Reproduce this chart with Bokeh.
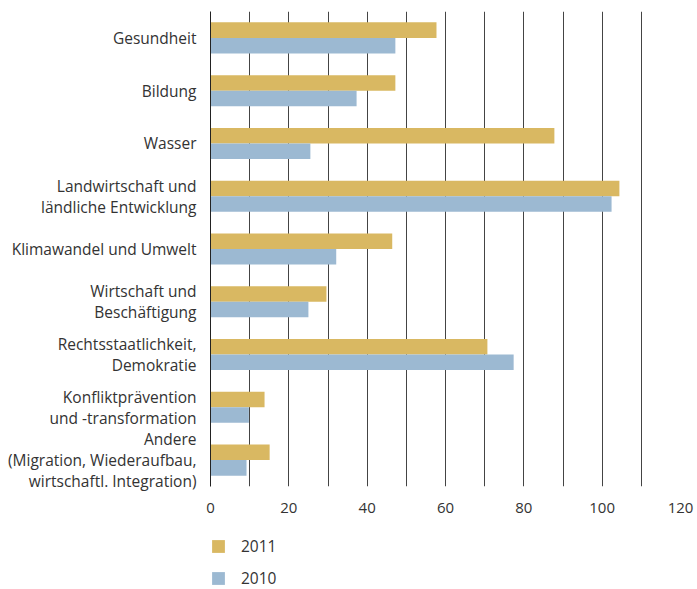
from bokeh.plotting import figure
from bokeh.layouts import column
from bokeh.models import FactorRange, Range1d, FixedTicker, SingleIntervalTicker, Legend, LegendItem
from bokeh.transform import dodge
from bokeh.embed import file_html
from bokeh.resources import INLINE

categories = [
    "Gesundheit",
    "Bildung",
    "Wasser",
    "Landwirtschaft und\nländliche Entwicklung",
    "Klimawandel und Umwelt",
    "Wirtschaft und\nBeschäftigung",
    "Rechtsstaatlichkeit,\nDemokratie",
    "Konfliktprävention\nund -transformation",
    "Andere\n(Migration, Wiederaufbau,\nwirtschaftl. Integration)",
]
values_2011 = [57.7, 47.2, 87.8, 104.4, 46.4, 29.6, 70.7, 13.8, 15.1]
values_2010 = [47.2, 37.3, 25.5, 102.4, 32.1, 25.0, 77.4, 9.8, 9.2]
x_ticks = [0, 20, 40, 60, 80, 100, 120]
series = ["2011", "2010"]

GOLD = "#D9B862"
BLUE = "#9CB9D2"
TEXT = "#333333"
FONT = "Open Sans"

p = figure(
    width=697, height=530,
    y_range=FactorRange(*reversed(categories), range_padding=0),
    x_range=Range1d(0, 120),
    output_backend="svg", toolbar_location=None,
    min_border_left=210, min_border_right=17, min_border_top=11, min_border_bottom=44,
    outline_line_color=None,
)

src = dict(cat=categories, v2011=values_2011, v2010=values_2010)
bh = 0.294
r11 = p.hbar(y=dodge("cat", bh / 2, range=p.y_range), right="v2011", left=0, height=bh,
             source=src, fill_color=GOLD, line_color=None)
r10 = p.hbar(y=dodge("cat", -bh / 2, range=p.y_range), right="v2010", left=0, height=bh,
             source=src, fill_color=BLUE, line_color=None)

# grid
p.ygrid.grid_line_color = None
p.xgrid.ticker = SingleIntervalTicker(interval=10)
p.xgrid.grid_line_color = "#444444"
p.xgrid.grid_line_width = 1

# x axis
p.xaxis.ticker = FixedTicker(ticks=x_ticks)
p.xaxis.axis_line_color = None
p.xaxis.major_tick_line_color = None
p.xaxis.minor_tick_line_color = None
p.xaxis.major_tick_out = 0
p.xaxis.major_label_standoff = 16
p.xaxis.major_label_text_font = FONT
p.xaxis.major_label_text_font_size = "15px"
p.xaxis.major_label_text_color = TEXT

# y axis
p.yaxis.axis_line_color = "#222222"
p.yaxis.major_tick_line_color = None
p.yaxis.minor_tick_line_color = None
p.yaxis.major_tick_out = 0
p.yaxis.major_label_standoff = 14
p.yaxis.major_label_text_font = FONT
p.yaxis.major_label_text_font_size = "15.5px"
p.yaxis.major_label_text_color = TEXT
p.yaxis.major_label_text_line_height = 0.94

# legend panel (separate strip below the chart)
lg = figure(
    width=697, height=59,
    x_range=Range1d(0, 1), y_range=Range1d(0, 1),
    output_backend="svg", toolbar_location=None,
    min_border_left=210, min_border_right=17, min_border_top=0, min_border_bottom=0,
    outline_line_color=None,
)
lg.axis.visible = False
lg.grid.grid_line_color = None
# legend proxies, placed outside the visible range
g11 = lg.rect(x=[-5], y=[-5], width=[1], height=[1], fill_color=GOLD, line_color=None)
g10 = lg.rect(x=[-5], y=[-5], width=[1], height=[1], fill_color=BLUE, line_color=None)

legend = Legend(
    items=[LegendItem(label=series[0], renderers=[g11]), LegendItem(label=series[1], renderers=[g10])],
    location=(0, 0),
    orientation="vertical",
    glyph_width=16, glyph_height=16, label_height=16,
    label_text_font=FONT, label_text_font_size="15.5px", label_text_color=TEXT,
    label_standoff=15, spacing=10, padding=0, margin=0,
    border_line_color=None, background_fill_alpha=0,
)
lg.add_layout(legend, "center")

open("out.html", "w").write(file_html(column(p, lg, spacing=0), INLINE))
